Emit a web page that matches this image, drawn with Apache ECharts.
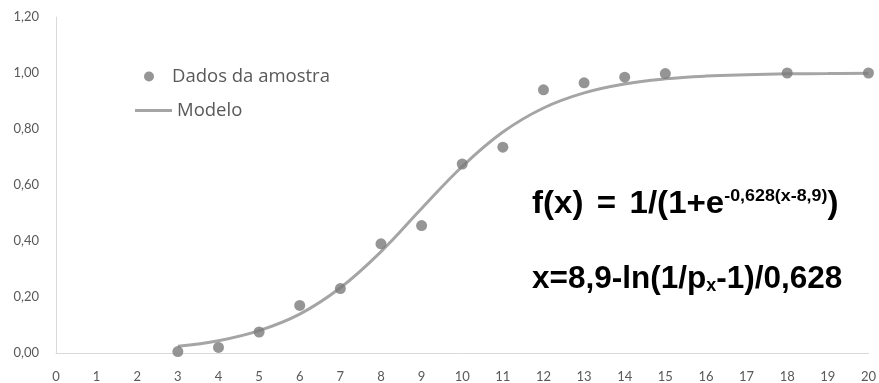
<!DOCTYPE html>
<html>
<head>
<meta charset="utf-8">
<script src="https://cdn.jsdelivr.net/npm/echarts@6/dist/echarts.min.js"></script>
<style>
html,body{margin:0;padding:0;background:#fff;}
#chart{width:879px;height:383px;}
</style>
</head>
<body>
<div id="chart"></div>
<script>
// Sample data
var sampleX = [3, 4, 5, 6, 7, 8, 9, 10, 11, 12, 13, 14, 15, 18, 20];
var sampleY = [0.005, 0.02, 0.075, 0.17, 0.23, 0.39, 0.455, 0.675, 0.735, 0.94, 0.965, 0.985, 0.998, 1.0, 1.0];
// Model curve
var modelX = [3, 4, 5, 6, 7, 8, 9, 10, 11, 12, 13, 14, 15, 16, 17, 18, 19, 20];
var modelY = [0.024, 0.044, 0.08, 0.139, 0.233, 0.362, 0.516, 0.666, 0.789, 0.875, 0.929, 0.961, 0.979, 0.989, 0.994, 0.997, 0.998, 0.999];
var seriesNames = ['Dados da amostra', 'Modelo'];

function pairs(xs, ys) { return xs.map(function (x, i) { return [x, ys[i]]; }); }

var chart = echarts.init(document.getElementById('chart'), null, {renderer: 'canvas'});
var labelFont = 'Lato, "Open Sans", sans-serif';
var legendFont = '"Open Sans", Lato, sans-serif';
var eqFont = '"Liberation Sans", Arial, sans-serif';
var option = {
  animation: false,
  backgroundColor: '#ffffff',
  grid: {left: 56, right: 10, top: 17, bottom: 30, containLabel: false},
  xAxis: {
    type: 'value', min: 0, max: 20, interval: 1,
    axisLine: {show: true, lineStyle: {color: '#d9d9d9', width: 1}},
    axisTick: {show: false},
    splitLine: {show: false},
    axisLabel: {color: '#595959', fontSize: 13, fontFamily: labelFont, margin: 17}
  },
  yAxis: {
    type: 'value', min: 0, max: 1.2, interval: 0.2,
    axisLine: {show: true, lineStyle: {color: '#d9d9d9', width: 1}},
    axisTick: {show: false},
    splitLine: {show: false},
    axisLabel: {color: '#595959', fontSize: 13, fontFamily: labelFont, margin: 17,
      formatter: function (v) { return v.toFixed(2).replace('.', ','); }}
  },
  legend: [
    {data: [seriesNames[0]], left: 139, top: 62, itemWidth: 36, itemHeight: 10, itemGap: 4,
      textStyle: {color: '#595959', fontSize: 18.5, fontFamily: legendFont}},
    {data: [{name: seriesNames[1], icon: 'rect'}], left: 130, top: 96, itemWidth: 37, itemHeight: 3, itemGap: 4,
      textStyle: {color: '#595959', fontSize: 18.5, fontFamily: legendFont}}
  ],
  series: [
    {
      name: seriesNames[0], type: 'scatter', data: pairs(sampleX, sampleY),
      symbol: 'circle', symbolSize: 11, itemStyle: {color: '#7a7a7a'}, z: 3
    },
    {
      name: seriesNames[1], type: 'line', data: pairs(modelX, modelY), smooth: 0.4,
      symbol: 'none', showSymbol: false,
      lineStyle: {color: '#a5a5a5', width: 3}, itemStyle: {color: '#a5a5a5'}, z: 2
    }
  ],
  graphic: [
    {
      type: 'text', x: 532, y: 188, scaleX: 1.05, z: 10,
      style: {
        text: '{a|f(x) }{e|=}{a| 1/(1+e}{s|-0,628(x-8,9)}{a|)}',
        rich: {
          a: {fontSize: 31.5, lineHeight: 32, fontWeight: 'bold', fontFamily: eqFont, fill: '#000'},
          e: {fontSize: 31.5, lineHeight: 32, fontWeight: 'bold', fontFamily: eqFont, fill: '#000', padding: [0, 4, 0, 4]},
          s: {fontSize: 17, lineHeight: 22, fontWeight: 'bold', fontFamily: eqFont, fill: '#000', verticalAlign: 'top'}
        }
      }
    },
    {
      type: 'text', x: 532, y: 263, z: 10,
      style: {
        text: '{a|x=8,9-ln(1/p}{b|x}{a|-1)/0,628}',
        rich: {
          a: {fontSize: 31.5, lineHeight: 32, fontWeight: 'bold', fontFamily: eqFont, fill: '#000'},
          b: {fontSize: 18, lineHeight: 11, fontWeight: 'bold', fontFamily: eqFont, fill: '#000', verticalAlign: 'bottom'}
        }
      }
    }
  ]
};
chart.setOption(option);
</script>
</body>
</html>
